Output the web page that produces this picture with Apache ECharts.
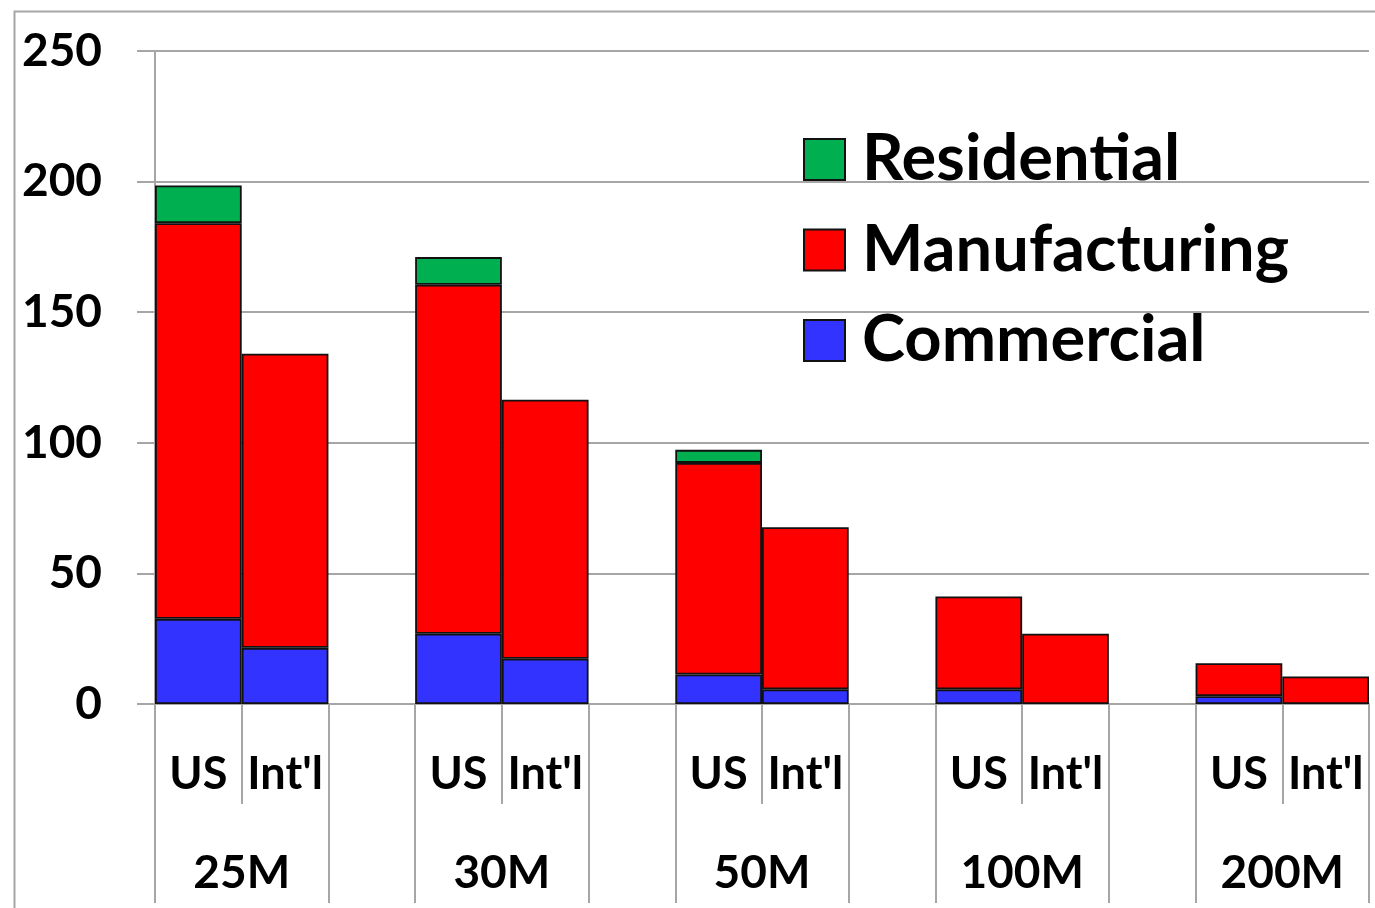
<!DOCTYPE html>
<html>
<head>
<meta charset="utf-8">
<script src="https://cdn.jsdelivr.net/npm/echarts@6/dist/echarts.min.js"></script>
<style>
  html, body { margin: 0; padding: 0; background: #fff; }
  #chart { width: 1375px; height: 908px; }
</style>
</head>
<body>
<div id="chart"></div>
<script>
// ---- data ----
const groups = ['25M', '30M', '50M', '100M', '200M'];
const subCategories = ['US', "Int'l"];
const commercialUS   = [32.6, 26.9, 11.3, 5.6, 3.0];
const commercialIntl = [21.5, 17.3, 5.6, null, null];
const manufacturingUS   = [151.5, 133.6, 81.0, 35.6, 12.6];
const manufacturingIntl = [112.6, 99.2, 62.1, 26.9, 10.5];
const residentialUS   = [14.4, 10.6, 5.0, null, null];
const residentialIntl = [null, null, null, null, null];
const yMin = 0, yMax = 250, yStep = 50;

// build 14 slots: US, Int'l, gap, US, Int'l, gap, ...
function slots(us, intl) {
  const out = [];
  groups.forEach((g, i) => {
    out.push(us[i]); out.push(intl[i]);
    if (i < groups.length - 1) out.push(null);
  });
  return out;
}
const slotLabels = [];
groups.forEach((g, i) => {
  slotLabels.push(subCategories[0]); slotLabels.push(subCategories[1]);
  if (i < groups.length - 1) slotLabels.push('');
});
// group label positions (boundary between US and Int'l of each group)
const groupPos = {};
groups.forEach((g, i) => { groupPos[i * 3 + 1] = g; });

const FONT = 'Lato';
const GRAY = '#A6A6A6';
const chart = echarts.init(document.getElementById('chart'), null, { renderer: 'canvas' });

const barBase = {
  type: 'bar', stack: 'total', xAxisIndex: 0, yAxisIndex: 0,
  barWidth: '100%', barCategoryGap: '0%',
  itemStyle: { borderColor: '#111', borderWidth: 1.8 },
  emphasis: { disabled: true }
};

chart.setOption({
  animation: false,
  backgroundColor: '#fff',
  graphic: [{
    type: 'rect', left: 12, top: 9, z: -10,
    shape: { width: 1400, height: 1000 },
    style: { fill: 'none', stroke: GRAY, lineWidth: 2 }
  }],
  grid: { left: 155, right: 6, top: 51, bottom: 204, containLabel: false },
  legend: {
    orient: 'vertical', left: 803, top: 127, padding: 0,
    icon: 'rect',
    itemWidth: 41, itemHeight: 41, itemGap: 25.5,
    data: ['Residential', 'Manufacturing', 'Commercial'],
    textStyle: { fontFamily: FONT, fontWeight: 'bold', fontSize: 65, color: '#000', padding: [0, 0, 0, 12] },
    selectedMode: false
  },
  xAxis: [
    {
      type: 'category', position: 'bottom', data: slotLabels,
      axisLine: { show: true, onZero: false, lineStyle: { color: GRAY, width: 2 } },
      axisTick: { show: true, length: 100, interval: (i) => i % 3 === 1, lineStyle: { color: GRAY, width: 2 } },
      axisLabel: { interval: 0, margin: 70, verticalAlign: 'middle', fontFamily: FONT, fontWeight: 'bold', fontSize: 45, color: '#000' },
      splitLine: { show: false }
    },
    {
      type: 'category', position: 'bottom', data: slotLabels,
      axisLine: { show: false, onZero: false },
      axisTick: { show: true, length: 199, interval: (i) => i % 3 !== 1, lineStyle: { color: GRAY, width: 2 } },
      axisLabel: { show: false },
      splitLine: { show: false }
    },
    {
      type: 'value', position: 'bottom', min: 0, max: slotLabels.length, interval: 1,
      axisLine: { show: false, onZero: false },
      axisTick: { show: false },
      splitLine: { show: false },
      axisLabel: {
        margin: 169, verticalAlign: 'middle', fontFamily: FONT, fontWeight: 'bold', fontSize: 46, color: '#000',
        showMinLabel: true, showMaxLabel: true,
        formatter: (v) => groupPos[v] || ''
      }
    }
  ],
  yAxis: {
    type: 'value', min: yMin, max: yMax, interval: yStep,
    axisLine: { show: true, lineStyle: { color: GRAY, width: 2 } },
    axisTick: { show: true, length: 18, lineStyle: { color: GRAY, width: 2 } },
    splitLine: { show: true, lineStyle: { color: GRAY, width: 2 } },
    axisLabel: { margin: 53, fontFamily: FONT, fontWeight: 'bold', fontSize: 46, color: '#000' }
  },
  series: [
    Object.assign({}, barBase, { name: 'Commercial', data: slots(commercialUS, commercialIntl), itemStyle: Object.assign({}, barBase.itemStyle, { color: '#3333FF' }) }),
    Object.assign({}, barBase, { name: 'Manufacturing', data: slots(manufacturingUS, manufacturingIntl), itemStyle: Object.assign({}, barBase.itemStyle, { color: '#FF0000' }) }),
    Object.assign({}, barBase, { name: 'Residential', data: slots(residentialUS, residentialIntl), itemStyle: Object.assign({}, barBase.itemStyle, { color: '#00B050' }) })
  ]
});
</script>
</body>
</html>
